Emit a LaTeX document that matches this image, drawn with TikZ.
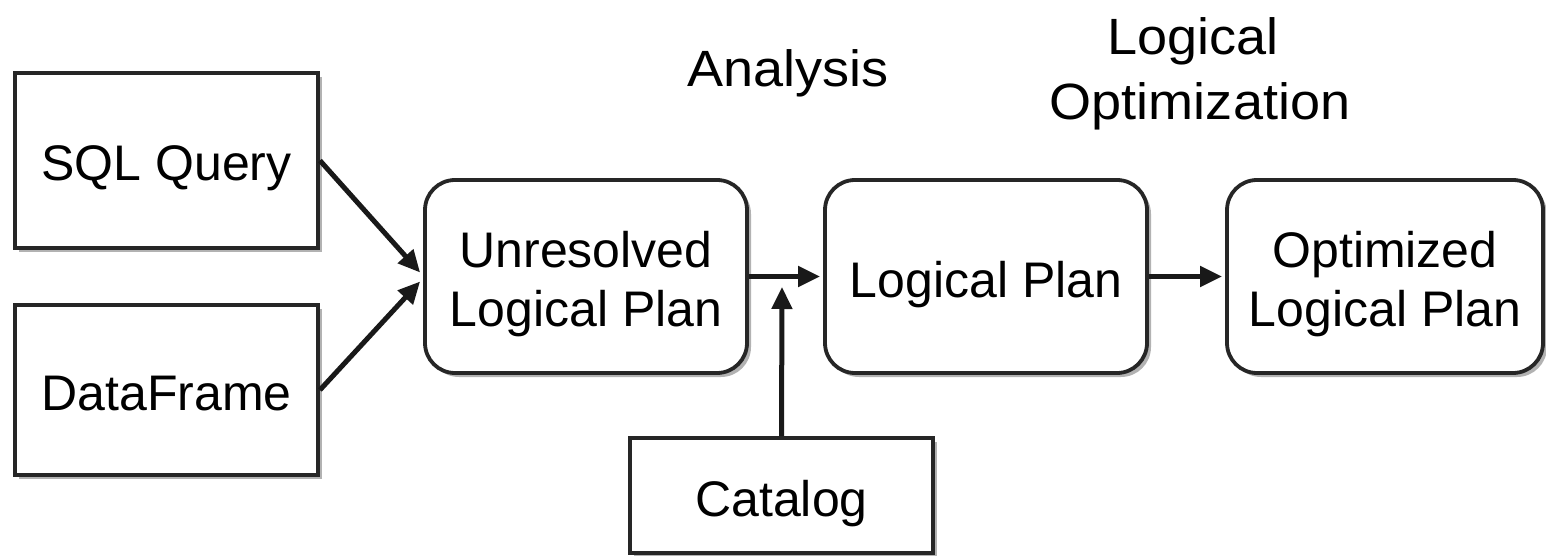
\documentclass[tikz,border=0pt]{standalone}
\usepackage{fontspec}
\setmainfont{Liberation Sans}
\newfontfamily\hdrfont[FakeStretch=1.06]{Liberation Sans}
\usetikzlibrary{arrows.meta,shadows,calc}
\begin{document}
\begin{tikzpicture}[x=1pt,y=-1pt,
  box/.style={draw=black!85, line width=3.8pt, fill=white, inner sep=0pt,
     drop shadow={shadow xshift=4pt, shadow yshift=-4pt, opacity=0.3, fill=black}},
  rbox/.style={box, rounded corners=30pt},
  boxtext/.style={font=\fontsize{50}{59}\selectfont, align=center, inner sep=0pt, yshift=-8pt},
  conn/.style={line width=5pt, draw=black!90, -{Triangle[length=22pt,width=20pt]}},
  hdr/.style={font=\hdrfont\fontsize{51}{65}\selectfont, anchor=base, inner sep=0pt}]
\useasboundingbox (0,0) rectangle (1546,556);
\fill[white] (0,0) rectangle (1546,556);
\node[box, minimum width=303pt, minimum height=175pt,
      label={[boxtext]center:SQL Query}] (sql) at (166.5,160.5) {};
\node[box, minimum width=303pt, minimum height=170pt,
      label={[boxtext, yshift=4pt]center:DataFrame}] (df) at (166.5,390) {};
\node[rbox, minimum width=322pt, minimum height=193pt,
      label={[boxtext]center:{Unresolved\\Logical Plan}}] (unres) at (586,276.5) {};
\node[rbox, minimum width=322pt, minimum height=193pt,
      label={[boxtext]center:Logical Plan}] (lp) at (986,276.5) {};
\node[rbox, minimum width=316pt, minimum height=193pt,
      label={[boxtext]center:{Optimized\\Logical Plan}}] (opt) at (1385,276.5) {};
\node[box, minimum width=303pt, minimum height=115pt,
      label={[boxtext]center:Catalog}] (cat) at (781.5,495.5) {};
\node[hdr] (analysis) at (788,87) {Analysis};
\node[hdr] (lo1) at (1193,55) {Logical};
\node[hdr] (lo2) at (1200,120) {Optimization};
\coordinate (j) at (782,287);
\draw[conn] (sql.east) -- ($(unres.west)+(-3,-4)$);
\draw[conn] (df.east) -- ($(unres.west)+(-3,5)$);
\draw[conn] (unres.east) -- ($(lp.west)+(-3,0)$);
\draw[conn] (cat.north) -- (j);
\draw[conn] (lp.east) -- ($(opt.west)+(-3,0)$);
\end{tikzpicture}
\end{document}
